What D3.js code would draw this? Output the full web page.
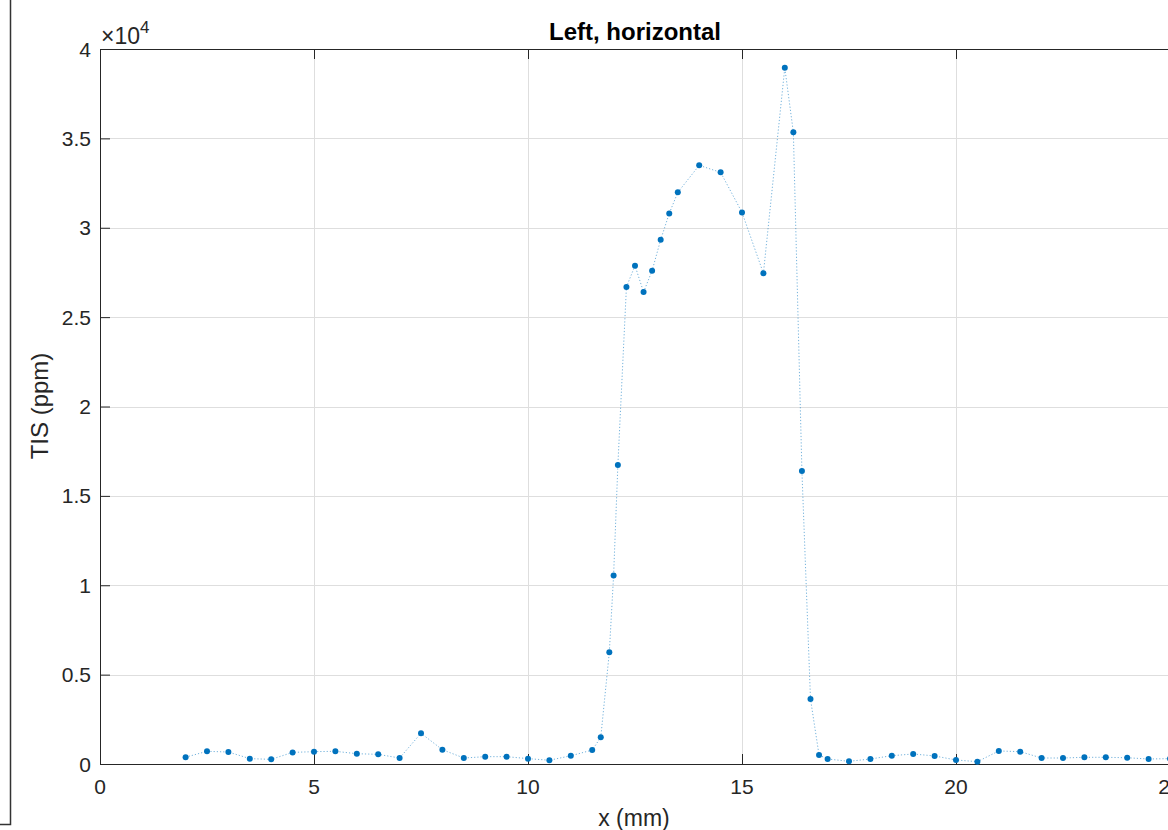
<!DOCTYPE html>
<html>
<head>
<meta charset="utf-8">
<script src="https://cdn.jsdelivr.net/npm/d3@7"></script>
<style>
  html, body { margin: 0; padding: 0; background: #fff; }
  svg { display: block; font-family: "Liberation Sans", Arial, Helvetica, sans-serif; }
</style>
</head>
<body>
<div id="chart"></div>
<script>
// position along the sample (mm)
const xValues = [2, 2.5, 3, 3.5, 4, 4.5, 5, 5.5, 6, 6.5, 7, 7.5, 8, 8.5, 9, 9.5, 10, 10.5,
  11, 11.5, 11.7, 11.9, 12, 12.1, 12.3, 12.5, 12.7, 12.9, 13.1, 13.3, 13.5, 14, 14.5, 15, 15.5,
  16, 16.2, 16.4, 16.6, 16.8, 17, 17.5, 18, 18.5, 19, 19.5, 20, 20.5, 21, 21.5, 22, 22.5,
  23, 23.5, 24, 24.5, 25];
// TIS (ppm)
const tisValues = [380, 710, 670, 300, 260, 650, 690, 710, 575, 540, 335, 1720, 800, 335, 410, 410, 300, 210,
  460, 780, 1490, 6250, 10550, 16730, 26690, 27880, 26400, 27600, 29330, 30800, 31980, 33490, 33100, 30860, 27450,
  38950, 35340, 16390, 3640, 503, 280, 150, 280, 465, 560, 450, 225, 130, 730, 690, 335, 335,
  375, 375, 350, 280, 300];
const xTicks = [0, 5, 10, 15, 20, 25];
const yTicks = [0, 5000, 10000, 15000, 20000, 25000, 30000, 35000, 40000];

const width = 1168, height = 830;
const plotLeft = 100, plotRight = 1170, plotTop = 49, plotBottom = 764;
const axisColor = '#262626';
const blue = '#0072BD';

const svg = d3.select('#chart').append('svg')
  .attr('width', width)
  .attr('height', height);

const x = d3.scaleLinear().domain([0, 25]).range([plotLeft, plotRight]);
const y = d3.scaleLinear().domain([0, 40000]).range([plotBottom, plotTop]);

// grid lines
const grid = svg.append('g').attr('stroke', '#dedede').attr('stroke-width', 1);
grid.selectAll('line.gx').data(xTicks.slice(1)).join('line')
  .attr('x1', d => Math.round(x(d)) + 0.5).attr('x2', d => Math.round(x(d)) + 0.5)
  .attr('y1', plotTop).attr('y2', plotBottom);
grid.selectAll('line.gy').data(yTicks.slice(1)).join('line')
  .attr('x1', plotLeft).attr('x2', plotRight)
  .attr('y1', d => Math.round(y(d)) + 0.5).attr('y2', d => Math.round(y(d)) + 0.5);

// axes (ticks pointing inward, like matlab)
const fmtY = d => d3.format('~g')(d / 10000);
const tickSize = 10;

const xAxis = svg.append('g')
  .attr('transform', `translate(0,${plotBottom})`)
  .call(d3.axisTop(x).tickValues(xTicks).tickSize(tickSize).tickFormat(''));
const xAxisTop = svg.append('g')
  .attr('transform', `translate(0,${plotTop})`)
  .call(d3.axisBottom(x).tickValues(xTicks).tickSize(tickSize).tickFormat(''));
const yAxis = svg.append('g')
  .attr('transform', `translate(${plotLeft},0)`)
  .call(d3.axisRight(y).tickValues(yTicks).tickSize(tickSize).tickFormat(''));

[xAxis, xAxisTop, yAxis].forEach(g => {
  g.select('.domain').attr('stroke', axisColor).attr('stroke-width', 1);
  g.selectAll('.tick line').attr('stroke', axisColor).attr('stroke-width', 1);
});

// tick labels
svg.append('g').selectAll('text').data(xTicks).join('text')
  .attr('x', d => x(d)).attr('y', 794)
  .attr('text-anchor', 'middle')
  .attr('font-size', 21).attr('fill', axisColor)
  .text(d => d);
svg.append('g').selectAll('text').data(yTicks).join('text')
  .attr('x', 91).attr('y', d => y(d) + 7.5)
  .attr('text-anchor', 'end')
  .attr('font-size', 21).attr('fill', axisColor)
  .text(fmtY);

// exponent label
const expo = svg.append('text').attr('x', 101).attr('y', 44)
  .attr('font-size', 23).attr('fill', axisColor);
expo.append('tspan').text('×10');
expo.append('tspan').attr('dy', -11).attr('font-size', 17).text('4');

// titles
svg.append('text').attr('x', 635).attr('y', 40)
  .attr('text-anchor', 'middle').attr('font-size', 24).attr('font-weight', 'bold')
  .attr('fill', '#000').text('Left, horizontal');
svg.append('text').attr('x', 634).attr('y', 826)
  .attr('text-anchor', 'middle').attr('font-size', 23).attr('fill', axisColor)
  .text('x (mm)');
svg.append('text')
  .attr('transform', `translate(48,406) rotate(-90)`)
  .attr('text-anchor', 'middle').attr('font-size', 24).attr('fill', axisColor)
  .text('TIS (ppm)');

// data
const pts = xValues.map((d, i) => [d, tisValues[i]]);
const line = d3.line().x(d => x(d[0])).y(d => y(d[1]));
svg.append('path').datum(pts)
  .attr('d', line)
  .attr('fill', 'none')
  .attr('stroke', blue)
  .attr('stroke-width', 1)
  .attr('stroke-opacity', 0.55)
  .attr('stroke-dasharray', '1.2,2');
svg.append('g').selectAll('circle').data(pts).join('circle')
  .attr('cx', d => x(d[0])).attr('cy', d => y(d[1]))
  .attr('r', 3).attr('fill', blue);

// frame corner of the neighbouring panel on the left
svg.append('path')
  .attr('d', 'M10.5,0 V824.5 H0')
  .attr('fill', 'none').attr('stroke', '#333').attr('stroke-width', 1.5);
</script>
</body>
</html>
